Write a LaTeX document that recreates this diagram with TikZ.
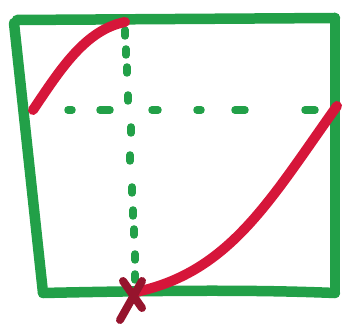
\documentclass[tikz,border=0pt]{standalone}
\definecolor{pengreen}{RGB}{34,160,72}
\definecolor{penred}{RGB}{214,22,58}
\definecolor{pendark}{RGB}{150,20,45}
\tikzset{
  frame/.style={draw=pengreen,line width=10.5pt,line cap=round,line join=round},
  dotmark/.style={draw=pengreen,line width=7.5pt,line cap=round},
  curve/.style={draw=penred,line width=10pt,line cap=round},
  cross/.style={draw=pendark,line width=8pt,line cap=round}
}
\begin{document}
\begin{tikzpicture}[x=1pt,y=-1pt]
\useasboundingbox (0,0) rectangle (346,328);
% frame
\coordinate (tl) at (14,23);
\coordinate (tr) at (335,18);
\coordinate (br) at (335,293);
\coordinate (bl) at (43,293);
\draw[frame] (17,20) -- (tr);
\draw[frame] (tr) -- (br);
\draw[frame] (bl) .. controls (180,290) and (260,290) .. (br);
\draw[frame] (tl) -- (bl);
% vertical dotted line
\foreach \y/\x in {33/125,52/126,70/127,98/128,130/131,158/130,190/132,213/133,232/134,257/135,277/135}
  \draw[dotmark] (\x,\y-3) -- (\x,\y+3);
% horizontal dotted line
\foreach \x/\l in {70/2,105/5,155/3,199/2,240/5,310/5}
  \draw[dotmark] (\x-\l,110) -- (\x+\l,110);
% red curves
\draw[curve] (33,110) .. controls (60,70) and (85,30) .. (125,22);
\draw[curve] (136,292) .. controls (230,272) and (270,200) .. (337,106);
% red cross
\draw[cross] (123,281) -- (142,308);
\draw[cross] (142,281) -- (120,320);
\end{tikzpicture}
\end{document}
